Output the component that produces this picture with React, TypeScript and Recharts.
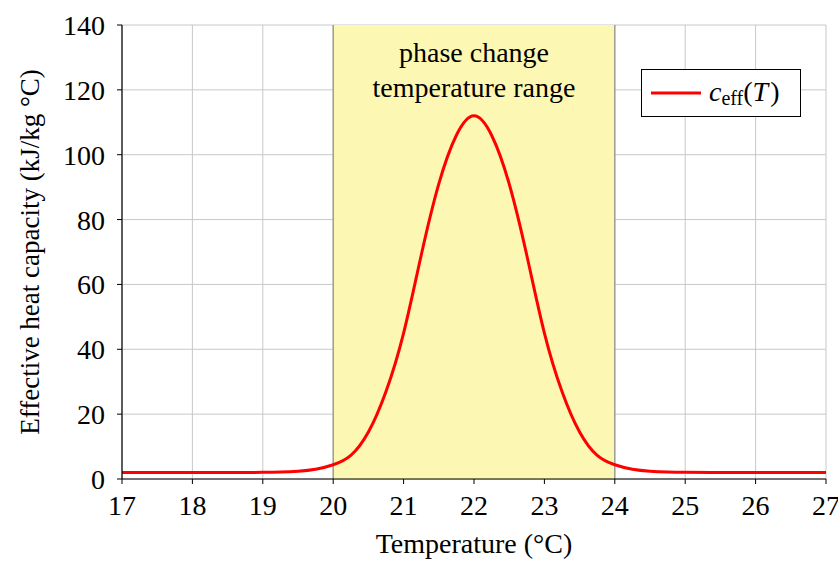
import { LineChart, Line, XAxis, YAxis, CartesianGrid, ReferenceArea, ReferenceLine, Label } from "recharts"

// temperature (°C)
const temps = [
  17, 17.5, 18, 18.5, 19, 19.25, 19.5, 19.75, 20, 20.25, 20.5, 20.75, 21, 21.25, 21.5, 21.75,
  22, 22.25, 22.5, 22.75, 23, 23.25, 23.5, 23.75, 24, 24.25, 24.5, 24.75, 25, 25.5, 26, 26.5, 27,
]
// effective heat capacity (kJ/kg °C)
const cEff = [
  2, 2, 2, 2, 2.05, 2.15, 2.4, 3.0, 4.4, 7.3, 14.5, 27, 45, 69, 91, 106,
  112, 106, 91, 69, 45, 27, 14.5, 7.3, 4.4, 3.0, 2.4, 2.15, 2.05, 2, 2, 2, 2,
]
const xTicks = [17, 18, 19, 20, 21, 22, 23, 24, 25, 26, 27]
const yTicks = [0, 20, 40, 60, 80, 100, 120, 140]
const bandStart = 20
const bandEnd = 24
const bandText = ["phase change", "temperature range"]

const data = temps.map((t, i) => ({ t, c: cEff[i] }))

const FONT = "Times New Roman, Liberation Serif, serif"

function LegendBox() {
  return (
    <div
      style={{
        position: "absolute",
        left: 641,
        top: 69,
        border: "1.5px solid #000",
        background: "#fff",
        width: 160,
        height: 48,
        boxSizing: "border-box",
        display: "flex",
        alignItems: "center",
        fontFamily: FONT,
        color: "#000",
      }}
    >
      <svg width={58} height={10} style={{ marginLeft: 9 }}>
        <line x1={0} y1={5} x2={50} y2={5} stroke="#ff0000" strokeWidth={3} />
      </svg>
      <span style={{ fontSize: 28, fontStyle: "italic", lineHeight: 1 }}>
        c<sub style={{ fontStyle: "normal", fontSize: 20, verticalAlign: -4 }}>eff</sub>
        <span style={{ fontStyle: "normal" }}>(</span>T<span style={{ fontStyle: "normal", marginLeft: 2 }}>)</span>
      </span>
    </div>
  )
}

function BandLabel(props: any) {
  const { viewBox } = props
  const cx = viewBox.x + viewBox.width / 2
  return (
    <g>
      {bandText.map((s, i) => (
        <text key={i} x={cx} y={viewBox.y + 37 + i * 35} textAnchor="middle" fontFamily={FONT} fontSize={28} fill="#000">
          {s}
        </text>
      ))}
    </g>
  )
}

function XLabel(props: any) {
  const { viewBox } = props
  return (
    <text x={viewBox.x + viewBox.width / 2} y={553} textAnchor="middle" fontFamily={FONT} fontSize={28} fill="#000">
      Temperature (°C)
    </text>
  )
}

function YLabel(props: any) {
  const { viewBox } = props
  const cy = viewBox.y + viewBox.height / 2
  return (
    <text x={39} y={cy} transform={`rotate(-90 39 ${cy})`} textAnchor="middle" fontFamily={FONT} fontSize={27} fill="#000">
      Effective heat capacity (kJ/kg °C)
    </text>
  )
}

export default function App() {
  const tickStyle = { fontFamily: FONT, fontSize: 28, fill: "#000" }
  return (
    <div style={{ position: "absolute", left: 0, top: 0, width: 838, height: 561, background: "#fff" }}>
      <LineChart width={838} height={561} data={data} margin={{ top: 25, right: 12, bottom: 42, left: 62 }}>
        <ReferenceArea x1={bandStart} x2={bandEnd} fill="#fcf7b2" fillOpacity={1} stroke="none" ifOverflow="visible" label={<BandLabel />} />
        <CartesianGrid stroke="#c8c8c8" strokeWidth={1} />
        <ReferenceLine x={bandStart} stroke="#8c8c8c" strokeWidth={1.2} />
        <ReferenceLine x={bandEnd} stroke="#8c8c8c" strokeWidth={1.2} />
        <XAxis
          dataKey="t"
          type="number"
          domain={[17, 27]}
          ticks={xTicks}
          height={40}
          tickSize={5}
          tickMargin={11}
          axisLine={{ stroke: "#000", strokeWidth: 1.2 }}
          tickLine={{ stroke: "#000" }}
          tick={tickStyle}
          interval={0}
        >
          <Label content={<XLabel />} />
        </XAxis>
        <XAxis
          xAxisId="top"
          orientation="top"
          dataKey="t"
          type="number"
          domain={[17, 27]}
          ticks={xTicks}
          height={0}
          tickSize={4}
          tick={false}
          axisLine={{ stroke: "#000", strokeWidth: 1.2 }}
          tickLine={{ stroke: "#000" }}
        />
        <YAxis
          type="number"
          domain={[0, 140]}
          ticks={yTicks}
          width={60}
          tickSize={5}
          tickMargin={12}
          axisLine={{ stroke: "#000", strokeWidth: 1.2 }}
          tickLine={{ stroke: "#000" }}
          tick={tickStyle}
          interval={0}
        >
          <Label content={<YLabel />} />
        </YAxis>
        <YAxis
          yAxisId="right"
          orientation="right"
          type="number"
          domain={[0, 140]}
          ticks={yTicks}
          width={0}
          tickSize={4}
          tick={false}
          axisLine={{ stroke: "#000", strokeWidth: 1.2 }}
          tickLine={{ stroke: "#000" }}
        />
        <Line
          type="natural"
          dataKey="c"
          stroke="#ff0000"
          strokeWidth={3}
          dot={false}
          isAnimationActive={false}
        />
      </LineChart>
      <LegendBox />
    </div>
  )
}
